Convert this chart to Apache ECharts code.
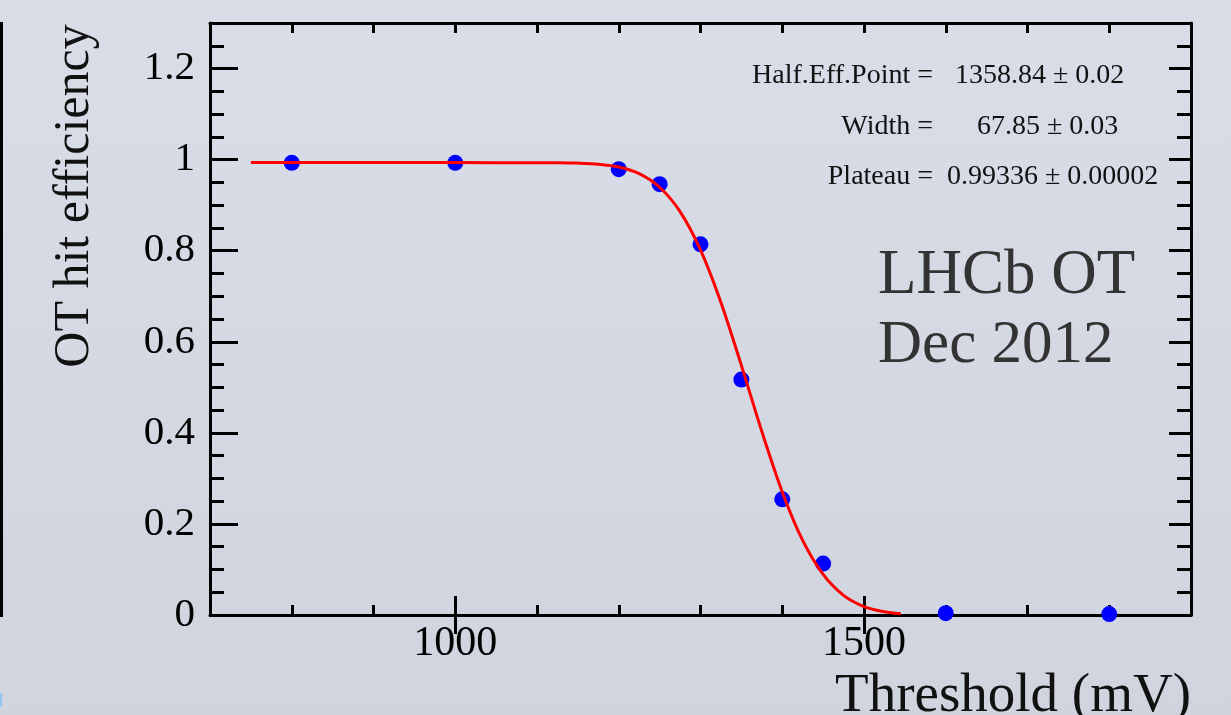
<!DOCTYPE html>
<html>
<head>
<meta charset="utf-8">
<script src="https://cdn.jsdelivr.net/npm/echarts@6/dist/echarts.min.js"></script>
<style>
html,body{margin:0;padding:0;width:1231px;height:715px;overflow:hidden;background:#d5d9e3;}
#chart{width:1231px;height:715px;}
</style>
</head>
<body>
<div id="chart"></div>
<script>
// ---- data ----
const thresholds = [800, 1000, 1200, 1250, 1300, 1350, 1400, 1450, 1600, 1800];
const efficiency = [0.993, 0.993, 0.979, 0.946, 0.814, 0.517, 0.254, 0.113, 0.004, 0.002];

// fitted curve
const fitX = [750, 800, 900, 1000, 1100, 1125, 1150, 1175, 1200, 1225, 1250, 1275, 1300, 1325, 1350, 1375, 1400, 1425, 1450, 1475, 1500, 1525, 1545];
const fitY = [0.9934, 0.9934, 0.9934, 0.9934, 0.9933, 0.9931, 0.9923, 0.9900, 0.9838, 0.9692, 0.9393, 0.8859, 0.8017, 0.6864, 0.5482, 0.4032, 0.2703, 0.1637, 0.0890, 0.0431, 0.0186, 0.0071, 0.0030];

const xTickLabels = [1000, 1500];
const yTickLabels = [0, 0.2, 0.4, 0.6, 0.8, 1, 1.2];

const fitLabels = ['Half.Eff.Point =', 'Width =', 'Plateau ='];
const fitValues = ['1358.84 \u00b1 0.02', '67.85 \u00b1 0.03', '0.99336 \u00b1 0.00002'];

const xTitle = 'Threshold (mV)';
const yTitle = 'OT hit efficiency';
const stamp = ['LHCb OT', 'Dec 2012'];

// ---- chart ----
const SERIF = '"Liberation Serif", "Times New Roman", serif';
const X_MIN = 700, X_MAX = 1900, Y_MIN = 0, Y_MAX = 1.3;
const gridPos = {left: 210, top: 23, right: 40, bottom: 100};
const lineStyle = {color: '#000', width: 3};

function xAx(grid, pos, opts) {
  return Object.assign({
    type: 'value', gridIndex: grid, position: pos, min: X_MIN, max: X_MAX,
    splitLine: {show: false}, axisLabel: {show: false},
    axisLine: {show: false}, axisTick: {show: false}
  }, opts);
}
function yAx(grid, pos, opts) {
  return Object.assign({
    type: 'value', gridIndex: grid, position: pos, min: Y_MIN, max: Y_MAX,
    splitLine: {show: false}, axisLabel: {show: false},
    axisLine: {show: false}, axisTick: {show: false}
  }, opts);
}

const chart = echarts.init(document.getElementById('chart'), null, {renderer: 'canvas'});

const labelGraphics = [];
const rowY = [76, 127, 177];
const valueX = [955, 977, 947];
fitLabels.forEach((t, i) => {
  labelGraphics.push({type: 'text', x: 933, y: rowY[i], style: {text: t, font: '28px ' + SERIF, fill: '#111', align: 'right', verticalAlign: 'middle'}});
  labelGraphics.push({type: 'text', x: valueX[i], y: rowY[i], style: {text: fitValues[i], font: '28px ' + SERIF, fill: '#111', align: 'left', verticalAlign: 'middle'}});
});

chart.setOption({
  backgroundColor: new echarts.graphic.LinearGradient(0, 0, 0, 1, [
    {offset: 0, color: '#d9dde7'}, {offset: 1, color: '#d0d4de'}
  ]),
  animation: false,
  textStyle: {fontFamily: SERIF},
  grid: [Object.assign({}, gridPos), Object.assign({}, gridPos)],
  xAxis: [
    xAx(0, 'bottom', {interval: 100, axisLine: {show: true, onZero: false, lineStyle}, axisTick: {show: true, inside: true, length: 10, lineStyle}}),
    xAx(0, 'top', {interval: 100, axisLine: {show: true, onZero: false, lineStyle}, axisTick: {show: true, inside: true, length: 10, lineStyle}}),
    xAx(1, 'bottom', {
      axisTick: {show: true, inside: true, length: 19, lineStyle, customValues: xTickLabels},
      axisLabel: {show: true, customValues: xTickLabels, margin: 8, fontSize: 42, color: '#000', fontFamily: SERIF,
        formatter: v => String(v)}
    }),
    xAx(1, 'top', {axisTick: {show: true, inside: true, length: 19, lineStyle, customValues: xTickLabels}})
  ],
  yAxis: [
    yAx(0, 'left', {interval: 0.05, axisLine: {show: true, onZero: false, lineStyle}, axisTick: {show: true, inside: true, length: 14, lineStyle}}),
    yAx(0, 'right', {interval: 0.05, axisLine: {show: true, onZero: false, lineStyle}, axisTick: {show: true, inside: true, length: 14, lineStyle}}),
    yAx(1, 'left', {
      axisTick: {show: true, inside: true, length: 28, lineStyle, customValues: yTickLabels},
      axisLabel: {show: true, customValues: yTickLabels, margin: 15, fontSize: 41, color: '#000', fontFamily: SERIF,
        formatter: v => String(Math.round(v * 10) / 10)}
    }),
    yAx(1, 'right', {axisTick: {show: true, inside: true, length: 22, lineStyle, customValues: yTickLabels}})
  ],
  series: [
    {
      type: 'scatter', xAxisIndex: 0, yAxisIndex: 0,
      data: thresholds.map((x, i) => [x, efficiency[i]]),
      symbol: 'circle', symbolSize: 16,
      itemStyle: {color: '#0000ff', opacity: 1}, z: 3
    },
    {
      type: 'line', xAxisIndex: 0, yAxisIndex: 0,
      data: fitX.map((x, i) => [x, fitY[i]]),
      showSymbol: false, smooth: 0.3,
      lineStyle: {color: '#ff0000', width: 3}, z: 4
    }
  ],
  graphic: [
    {type: 'rect', shape: {x: 0, y: 22, width: 3, height: 595}, style: {fill: '#000'}},
    {type: 'rect', shape: {x: 0, y: 693, width: 2, height: 14, r: 1}, style: {fill: '#8ec6ee'}},
    {type: 'text', x: 1191, y: 697, style: {text: xTitle, font: '55px ' + SERIF, fill: '#111', align: 'right', verticalAlign: 'middle'}},
    {type: 'text', x: 75, y: 196, rotation: Math.PI / 2, style: {text: yTitle, font: '50px ' + SERIF, fill: '#111', align: 'center', verticalAlign: 'middle'}},
    {type: 'text', x: 878, y: 276, style: {text: stamp[0], font: '63px ' + SERIF, fill: '#333', align: 'left', verticalAlign: 'middle'}},
    {type: 'text', x: 878, y: 346, style: {text: stamp[1], font: '61px ' + SERIF, fill: '#333', align: 'left', verticalAlign: 'middle'}}
  ].concat(labelGraphics)
});
</script>
</body>
</html>
